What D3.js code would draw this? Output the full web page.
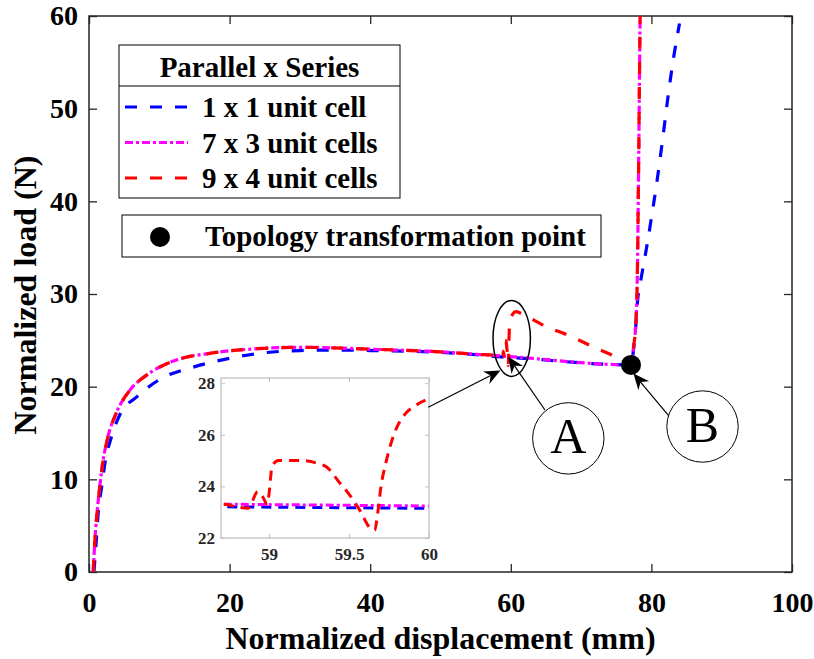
<!DOCTYPE html>
<html>
<head>
<meta charset="utf-8">
<script src="https://cdn.jsdelivr.net/npm/d3@7"></script>
<style>
  body { margin: 0; background: #fff; }
  text { font-family: "Liberation Serif", "Times New Roman", serif; }
</style>
</head>
<body>
<div id="chart"></div>
<script>
// ---- data ----
var seriesNames = ['1 x 1 unit cell', '7 x 3 unit cells', '9 x 4 unit cells'];

var blueX = [0.7, 1.0, 1.3, 1.8, 2.3, 3.2, 4.4, 6.8, 10.1, 14.8, 19.6, 24.3, 30, 35, 40, 50, 55, 58.7, 60, 77.1,
             77.5, 77.8, 78.0, 78.5, 79.2, 80.0, 80.8, 81.6, 82.4, 83.2, 84.0];
var blueY = [0, 3, 6.3, 9.2, 11.9, 14.6, 17.0, 18.9, 20.8, 22.1, 23.0, 23.6, 23.9, 23.95, 23.9, 23.7, 23.45, 23.21, 23.15, 22.35,
             24.3, 26.8, 29, 31.5, 34.5, 38.2, 42.2, 46.7, 51.5, 55.7, 59.2];

var magentaX = [0.6, 0.8, 1.1, 1.5, 2.0, 2.7, 3.9, 5.8, 8.5, 12.5, 17.2, 24, 30, 40, 50, 55, 58.7, 60, 77.1,
                77.5, 77.8, 78.0, 78.2, 78.4, 78.5];
var magentaY = [0, 3, 6, 9, 12, 14.6, 17.2, 19.6, 21.4, 22.9, 23.6, 24.1, 24.25, 24.05, 23.75, 23.5, 23.31, 23.24, 22.35,
                24.5, 27, 32, 45, 60, 64];

var redX = [0.6, 0.8, 1.1, 1.5, 2.0, 2.7, 3.9, 5.8, 8.5, 12.5, 17.2, 24, 30, 40, 50, 55, 58.7,
            58.87, 58.93, 58.96, 58.99, 59.0, 59.02, 59.06, 59.2, 59.3, 59.36, 59.44, 59.5, 59.57, 59.63, 59.66,
            59.68, 59.70, 59.73, 59.78, 59.85, 59.92, 60.0, 60.3, 60.7, 61.5, 62.5, 65, 68, 72, 75, 77.1,
            77.5, 77.8, 78.0, 78.2, 78.4, 78.5];
var redY = [0, 3, 6, 9, 12, 14.6, 17.2, 19.6, 21.4, 22.9, 23.6, 24.1, 24.25, 24.05, 23.75, 23.5, 23.31,
            23.15, 23.8, 23.6, 23.3, 23.7, 24.8, 25.0, 25.0, 24.9, 24.75, 24.15, 23.7, 23.05, 22.4, 22.3,
            23.0, 24.0, 24.9, 26.0, 26.8, 27.15, 27.4, 27.85, 28.1, 27.9, 27.5, 26.5, 25.6, 24.2, 23.2, 22.35,
            24.5, 27, 32, 45, 60, 64];

var transformPoint = [77.1, 22.35];

var xTicks = [0, 20, 40, 60, 80, 100];
var yTicks = [0, 10, 20, 30, 40, 50, 60];
var insetXTicks = [59, 59.5, 60];
var insetYTicks = [22, 24, 26, 28];

// ---- layout ----
var width = 814, height = 659;
var plotL = 89, plotR = 792, plotT = 16, plotB = 572;
var inL = 221, inR = 429, inT = 378, inB = 538;
var axisColor = '#262626';

var styles = [
  { color: '#0000ff', dash: '12,13' },
  { color: '#ff00ff', dash: '8,3,3,3' },
  { color: '#ff0000', dash: '12,13' }
];

function zip(xs, ys) {
  return xs.map(function(d, i) { return [d, ys[i]]; });
}
var series = [zip(blueX, blueY), zip(magentaX, magentaY), zip(redX, redY)];

var x = d3.scaleLinear().domain([0, 100]).range([plotL, plotR]);
var y = d3.scaleLinear().domain([0, 60]).range([plotB, plotT]);
var ix = d3.scaleLinear().domain([58.7, 60]).range([inL, inR]);
var iy = d3.scaleLinear().domain([22, 28.2]).range([inB, inT]);

var svg = d3.select('#chart').append('svg')
  .attr('width', width)
  .attr('height', height)
  .style('background', '#fff');

var defs = svg.append('defs');
defs.append('clipPath').attr('id', 'clipMain')
  .append('rect').attr('x', plotL).attr('y', plotT)
  .attr('width', plotR - plotL).attr('height', plotB - plotT);
defs.append('clipPath').attr('id', 'clipInset')
  .append('rect').attr('x', inL).attr('y', inT)
  .attr('width', inR - inL).attr('height', inB - inT);

// ---- main axes ----
function styleAxis(g, size) {
  g.select('.domain').remove();
  g.selectAll('line').attr('stroke', axisColor).attr('stroke-width', 1.3);
  g.selectAll('text')
    .attr('fill', '#000')
    .style('font-family', '"Liberation Serif", "Times New Roman", serif')
    .style('font-weight', 'bold')
    .style('font-size', size + 'px');
}

svg.append('g').attr('transform', 'translate(0,' + plotB + ')')
  .call(d3.axisBottom(x).tickValues(xTicks).tickSize(-8).tickPadding(20))
  .call(styleAxis, 28);
svg.append('g').attr('transform', 'translate(0,' + plotT + ')')
  .call(d3.axisTop(x).tickValues(xTicks).tickSize(-8).tickFormat(''))
  .call(styleAxis, 28);
svg.append('g').attr('transform', 'translate(' + plotL + ',0)')
  .call(d3.axisLeft(y).tickValues(yTicks).tickSize(-8).tickPadding(11))
  .call(styleAxis, 28);
svg.append('g').attr('transform', 'translate(' + plotR + ',0)')
  .call(d3.axisRight(y).tickValues(yTicks).tickSize(-8).tickFormat(''))
  .call(styleAxis, 28);

svg.append('rect')
  .attr('x', plotL).attr('y', plotT)
  .attr('width', plotR - plotL).attr('height', plotB - plotT)
  .attr('fill', 'none')
  .attr('stroke', axisColor)
  .attr('stroke-width', 1.5);

svg.append('text')
  .attr('x', (plotL + plotR) / 2)
  .attr('y', 649)
  .attr('text-anchor', 'middle')
  .style('font-weight', 'bold')
  .style('font-size', '32px')
  .text('Normalized displacement (mm)');

svg.append('text')
  .attr('transform', 'translate(36,295) rotate(-90)')
  .attr('text-anchor', 'middle')
  .style('font-weight', 'bold')
  .style('font-size', '32px')
  .text('Normalized load (N)');

// ---- curves ----
var line = d3.line()
  .x(function(d) { return x(d[0]); })
  .y(function(d) { return y(d[1]); })
  .curve(d3.curveMonotoneX);

svg.append('g').attr('clip-path', 'url(#clipMain)')
  .selectAll('path').data(series)
  .enter().append('path')
    .attr('d', line)
    .attr('fill', 'none')
    .attr('stroke', function(d, i) { return styles[i].color; })
    .attr('stroke-width', 3.2)
    .attr('stroke-dasharray', function(d, i) { return styles[i].dash; });

svg.append('circle')
  .attr('cx', x(transformPoint[0]))
  .attr('cy', y(transformPoint[1]))
  .attr('r', 10)
  .attr('fill', '#000');

// ---- legends ----
var leg = svg.append('g');
leg.append('rect')
  .attr('x', 119).attr('y', 45).attr('width', 281).attr('height', 153)
  .attr('fill', '#fff').attr('stroke', '#000').attr('stroke-width', 1);
leg.append('line')
  .attr('x1', 119).attr('x2', 400).attr('y1', 86).attr('y2', 86)
  .attr('stroke', '#000').attr('stroke-width', 1);
leg.append('text')
  .attr('x', 259.5).attr('y', 77)
  .attr('text-anchor', 'middle')
  .style('font-weight', 'bold').style('font-size', '29px')
  .text('Parallel x Series');

var rows = leg.selectAll('g.row').data(seriesNames)
  .enter().append('g').attr('class', 'row')
  .attr('transform', function(d, i) { return 'translate(0,' + (i * 35.5) + ')'; });
rows.append('line')
  .attr('x1', 125).attr('x2', 188).attr('y1', 107).attr('y2', 107)
  .attr('stroke', function(d, i) { return styles[i].color; })
  .attr('stroke-width', 3.2)
  .attr('stroke-dasharray', function(d, i) { return styles[i].dash; });
rows.append('text')
  .attr('x', 202).attr('y', 117)
  .style('font-weight', 'bold').style('font-size', '29px')
  .text(function(d) { return d; });

var leg2 = svg.append('g');
leg2.append('rect')
  .attr('x', 122).attr('y', 215).attr('width', 479).attr('height', 42)
  .attr('fill', '#fff').attr('stroke', '#000').attr('stroke-width', 1);
leg2.append('circle').attr('cx', 160).attr('cy', 237).attr('r', 10).attr('fill', '#000');
leg2.append('text')
  .attr('x', 205).attr('y', 246)
  .style('font-weight', 'bold').style('font-size', '29px')
  .text('Topology transformation point');

// ---- inset ----
var inset = svg.append('g');
inset.append('rect')
  .attr('x', inL).attr('y', inT).attr('width', inR - inL).attr('height', inB - inT)
  .attr('fill', '#fff');

function styleInset(g) {
  g.select('.domain').remove();
  g.selectAll('line').attr('stroke', '#c0c0c0').attr('stroke-width', 1);
  g.selectAll('text')
    .attr('fill', axisColor)
    .style('font-family', '"Liberation Serif", "Times New Roman", serif')
    .style('font-weight', 'bold')
    .style('font-size', '17px');
}
inset.append('g').attr('transform', 'translate(0,' + inB + ')')
  .call(d3.axisBottom(ix).tickValues(insetXTicks).tickSize(-4).tickPadding(10).tickFormat(d3.format('')))
  .call(styleInset);
inset.append('g').attr('transform', 'translate(0,' + inT + ')')
  .call(d3.axisTop(ix).tickValues(insetXTicks).tickSize(-4).tickFormat(''))
  .call(styleInset);
inset.append('g').attr('transform', 'translate(' + inL + ',0)')
  .call(d3.axisLeft(iy).tickValues(insetYTicks).tickSize(-4).tickPadding(6).tickFormat(d3.format('d')))
  .call(styleInset);
inset.append('g').attr('transform', 'translate(' + inR + ',0)')
  .call(d3.axisRight(iy).tickValues(insetYTicks).tickSize(-4).tickFormat(''))
  .call(styleInset);

var insetLine = d3.line()
  .x(function(d) { return ix(d[0]); })
  .y(function(d) { return iy(d[1]); })
  .curve(d3.curveMonotoneX);

inset.append('g').attr('clip-path', 'url(#clipInset)')
  .selectAll('path').data(series)
  .enter().append('path')
    .attr('d', insetLine)
    .attr('fill', 'none')
    .attr('stroke', function(d, i) { return styles[i].color; })
    .attr('stroke-width', 3)
    .attr('stroke-dasharray', function(d, i) { return i == 1 ? '8,3,3,3' : '10,7'; });

inset.append('rect')
  .attr('x', inL).attr('y', inT).attr('width', inR - inL).attr('height', inB - inT)
  .attr('fill', 'none').attr('stroke', '#c0c0c0').attr('stroke-width', 1.3);

// ---- annotations (positions in data units of the main axes) ----
function arrow(x0, y0, x1, y1) {
  var ax = x(x0), ay = y(y0), bx = x(x1), by = y(y1);
  var dx = bx - ax, dy = by - ay, len = Math.sqrt(dx * dx + dy * dy);
  var ux = dx / len, uy = dy / len, nx = -uy, ny = ux;
  var L = 16, W = 7, notch = 5;
  svg.append('line')
    .attr('x1', ax).attr('y1', ay)
    .attr('x2', bx - ux * (L - notch)).attr('y2', by - uy * (L - notch))
    .attr('stroke', '#000').attr('stroke-width', 1.2);
  var pts = [
    [bx, by],
    [bx - ux * L + nx * W, by - uy * L + ny * W],
    [bx - ux * (L - notch), by - uy * (L - notch)],
    [bx - ux * L - nx * W, by - uy * L - ny * W]
  ];
  svg.append('polygon').attr('points', pts.join(' ')).attr('fill', '#000');
}

svg.append('ellipse')
  .attr('cx', x(60.13)).attr('cy', y(25.21))
  .attr('rx', 18.7).attr('ry', 38)
  .attr('fill', 'none').attr('stroke', '#000').attr('stroke-width', 1.5);

arrow(48.26, 17.77, 58.53, 21.74);
arrow(64.86, 17.48, 59.64, 23.23);
arrow(82.6, 16.75, 77.45, 21.41);

var callouts = svg.selectAll('g.callout')
  .data([{ label: 'A', cx: 68.18, cy: 14.42 }, { label: 'B', cx: 87.27, cy: 15.70 }])
  .enter().append('g').attr('class', 'callout');
callouts.append('circle')
  .attr('cx', function(d) { return x(d.cx); })
  .attr('cy', function(d) { return y(d.cy); })
  .attr('r', 35.7)
  .attr('fill', '#fff').attr('stroke', '#000').attr('stroke-width', 1);
callouts.append('text')
  .attr('x', function(d) { return x(d.cx); })
  .attr('y', function(d) { return y(d.cy) + 15; })
  .attr('text-anchor', 'middle')
  .style('font-size', '50px')
  .text(function(d) { return d.label; });
</script>
</body>
</html>
